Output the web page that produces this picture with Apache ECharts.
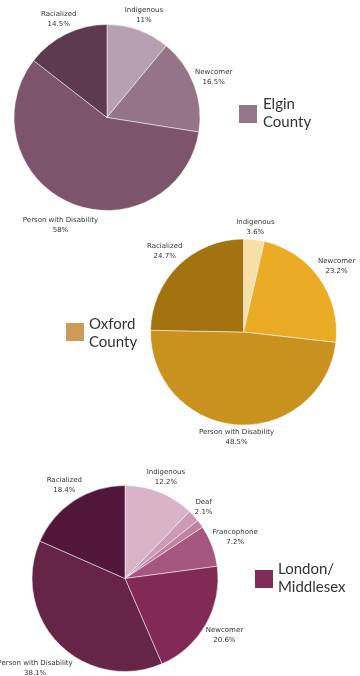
<!DOCTYPE html>
<html>
<head>
<meta charset="utf-8">
<script src="https://cdn.jsdelivr.net/npm/echarts@6/dist/echarts.min.js"></script>
<style>
  html, body { margin: 0; padding: 0; background: #ffffff; }
  #chart { width: 360px; height: 676px; }
</style>
</head>
<body>
<div id="chart"></div>
<script>
// Share of participants by group, per region (percent)
const elginCategories = ['Indigenous', 'Newcomer', 'Person with Disability', 'Racialized'];
const elginValues = [11, 16.5, 58, 14.5];

const oxfordCategories = ['Indigenous', 'Newcomer', 'Person with Disability', 'Racialized'];
const oxfordValues = [3.6, 23.2, 48.5, 24.7];

const londonCategories = ['Indigenous', 'Deaf', 'Other', 'Francophone', 'Newcomer', 'Person with Disability', 'Racialized'];
const londonValues = [12.2, 2.1, 1.4, 7.2, 20.6, 38.1, 18.4];
const londonUnlabeled = ['Other'];

const regionNames = ['Elgin\nCounty', 'Oxford\nCounty', 'London/\nMiddlesex'];

// Palettes
const elginColors = ['#b8a0b3', '#947488', '#7c556d', '#5e3a51'];
const oxfordColors = ['#f6e0a8', '#e9ac24', '#c9921e', '#a3730f'];
const londonColors = ['#d9b4c8', '#cd9ab6', '#bf80a2', '#a6577f', '#802a55', '#662447', '#52163b'];
const regionKeyColors = ['#967589', '#cd9a57', '#7f2c59'];

const LABEL_FONT_SIZE = 7;
const LABEL_FONT_FAMILY = 'DejaVu Sans';
const LABEL_LINE_HEIGHT = 10;
const LABEL_GAP = 0;

const measureCtx = document.createElement('canvas').getContext('2d');
measureCtx.font = LABEL_FONT_SIZE + 'px "' + LABEL_FONT_FAMILY + '"';
function textWidth(str) {
  return Math.max.apply(null, String(str).split('\n').map(l => measureCtx.measureText(l).width));
}

// Push each label outwards along the slice's mid direction until the
// label box clears the rim (box support distance in that direction).
function placeLabel(params) {
  const pts = params.labelLinePoints;
  if (!pts || pts.length < 2) return {};
  const p0 = pts[0], p1 = pts[1];
  let dx = p1[0] - p0[0], dy = p1[1] - p0[1];
  const len = Math.hypot(dx, dy) || 1;
  dx /= len; dy /= len;
  const lines = String(params.text).split('\n').length;
  const hw = textWidth(params.text) / 2;
  const hh = lines * LABEL_LINE_HEIGHT / 2;
  const d = LABEL_GAP + Math.abs(dx) * hw + Math.abs(dy) * hh;
  return { x: p0[0] + dx * d, y: p0[1] + dy * d, align: 'center', verticalAlign: 'middle' };
}

function pieSeries(name, categories, values, colors, center, unlabeled) {
  unlabeled = unlabeled || [];
  return {
    type: 'pie',
    name: name,
    center: center,
    radius: 93,
    startAngle: 90,
    clockwise: true,
    avoidLabelOverlap: false,
    silent: true,
    emphasis: { disabled: true },
    itemStyle: { borderColor: '#ffffff', borderWidth: 0.5 },
    label: {
      show: true,
      position: 'outside',
      formatter: '{b}\n{c}%',
      fontFamily: LABEL_FONT_FAMILY,
      fontSize: LABEL_FONT_SIZE,
      lineHeight: LABEL_LINE_HEIGHT,
      color: '#333333',
      width: 110,
      overflow: 'none'
    },
    labelLine: { show: true, length: 10, length2: 0, lineStyle: { opacity: 0, width: 0 } },
    labelLayout: placeLabel,
    data: categories.map((c, i) => {
      const item = { name: c, value: values[i], itemStyle: { color: colors[i] } };
      if (unlabeled.indexOf(c) >= 0) {
        item.label = { show: false };
        item.labelLine = { show: false };
      }
      return item;
    })
  };
}

function regionKey(i, boxX, boxY, textX, textY) {
  return [
    { type: 'rect', silent: true, shape: { x: boxX, y: boxY, width: 18, height: 18 },
      style: { fill: regionKeyColors[i] } },
    { type: 'text', silent: true, x: textX, y: textY,
      style: { text: regionNames[i], fontFamily: 'Lato', fontSize: 15, lineHeight: 18,
               fill: '#333333', align: 'left', verticalAlign: 'middle' } }
  ];
}

const chart = echarts.init(document.getElementById('chart'), null, { renderer: 'canvas' });
chart.setOption({
  animation: false,
  backgroundColor: '#ffffff',
  series: [
    pieSeries('Elgin County', elginCategories, elginValues, elginColors, [107, 117.5]),
    pieSeries('Oxford County', oxfordCategories, oxfordValues, oxfordColors, [243.5, 332]),
    pieSeries('London/Middlesex', londonCategories, londonValues, londonColors, [125, 578.5], londonUnlabeled)
  ],
  graphic: [].concat(
    regionKey(0, 239, 105, 263, 113),
    regionKey(1, 66, 323, 89, 333),
    regionKey(2, 255, 570, 278, 578)
  )
});
</script>
</body>
</html>
